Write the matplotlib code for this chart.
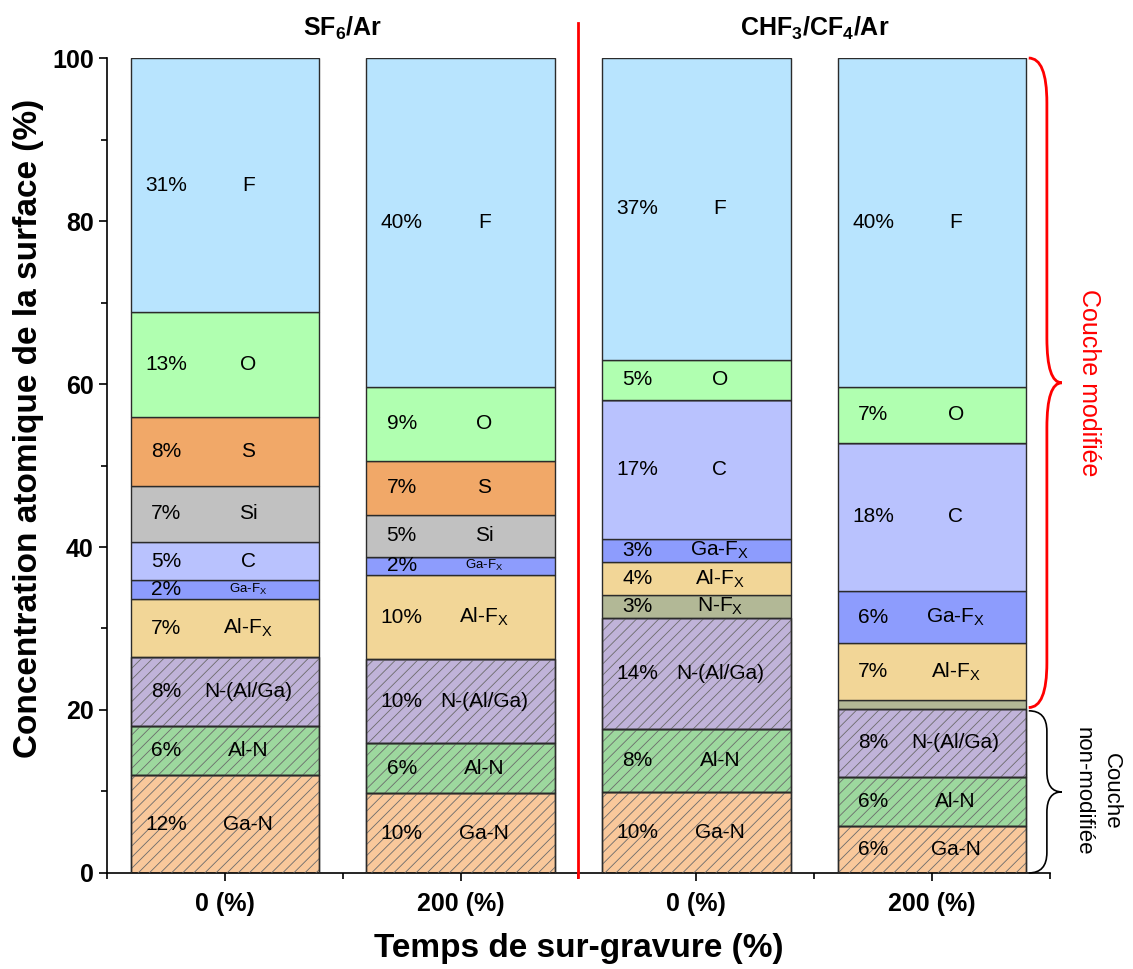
import numpy as np
import matplotlib
matplotlib.use('Agg')
import matplotlib.pyplot as plt
from matplotlib.path import Path
from matplotlib.patches import PathPatch

plt.rcParams['font.family'] = ['Liberation Sans', 'DejaVu Sans']
plt.rcParams['hatch.linewidth'] = 0.6
plt.rcParams['mathtext.default'] = 'regular'

#! Data
categories = ['0 (%)', '200 (%)', '0 (%)', '200 (%)']
groups = ['SF$_6$/Ar', 'CHF$_3$/CF$_4$/Ar']

species = ['Ga-N', 'Al-N', 'N-(Al/Ga)', 'N-F$_X$', 'Al-F$_X$', 'Ga-F$_X$',
           'C', 'Si', 'S', 'O', 'F']
ga_n = [12.0, 9.8, 9.9, 5.8]
al_n = [6.0, 6.1, 7.8, 6.0]
n_alga = [8.5, 10.3, 13.6, 8.3]
n_fx = [0.0, 0.0, 2.8, 1.1]
al_fx = [7.1, 10.4, 4.0, 7.0]
ga_fx = [2.3, 2.2, 2.9, 6.4]
c = [4.7, 0.0, 17.0, 18.2]
si = [6.9, 5.1, 0.0, 0.0]
s = [8.5, 6.7, 0.0, 0.0]
o = [12.8, 9.0, 5.0, 6.8]
f = [31.2, 40.4, 37.0, 40.4]

pct_ga_n = ['12%', '10%', '10%', '6%']
pct_al_n = ['6%', '6%', '8%', '6%']
pct_n_alga = ['8%', '10%', '14%', '8%']
pct_n_fx = ['', '', '3%', '']
pct_al_fx = ['7%', '10%', '4%', '7%']
pct_ga_fx = ['2%', '2%', '3%', '6%']
pct_c = ['5%', '', '17%', '18%']
pct_si = ['7%', '5%', '', '']
pct_s = ['8%', '7%', '', '']
pct_o = ['13%', '9%', '5%', '7%']
pct_f = ['31%', '40%', '37%', '40%']

values = [ga_n, al_n, n_alga, n_fx, al_fx, ga_fx, c, si, s, o, f]
pcts = [pct_ga_n, pct_al_n, pct_n_alga, pct_n_fx, pct_al_fx, pct_ga_fx,
        pct_c, pct_si, pct_s, pct_o, pct_f]
colors = ['#f9c89b', '#9dd89e', '#c0b3d9', '#b2b896', '#f2d697', '#8d9cfd',
          '#b9c2fe', '#c1c1c1', '#f1a868', '#b0ffb0', '#b8e4fe']
hatched = [True, True, True, False, False, False, False, False, False, False, False]

#! Figure
fig = plt.figure(figsize=(11.33, 9.69), dpi=100)
ax = fig.add_axes([0.0944, 0.0991, 0.8323, 0.8410])

x = np.arange(len(categories))
width = 0.8
bottom = np.zeros(len(categories))
for k, vals in enumerate(values):
    vals = np.array(vals)
    ax.bar(x, vals, width, bottom=bottom, color=colors[k],
           edgecolor='#2b2b2b', linewidth=1.0, zorder=2)
    if hatched[k]:
        ax.bar(x, vals, width, bottom=bottom, color='none',
               edgecolor='#6b6b6b', hatch='///', linewidth=0, zorder=3)
        ax.bar(x, vals, width, bottom=bottom, color='none',
               edgecolor='#2b2b2b', linewidth=1.0, zorder=4)
    for i in range(len(categories)):
        if vals[i] <= 0:
            continue
        ymid = bottom[i] + vals[i] / 2
        if pcts[k][i]:
            ax.text(x[i] - 0.25, ymid, pcts[k][i], ha='center', va='center',
                    fontsize=15, zorder=5)
            small = vals[i] < 2.5
            ax.text(x[i] + 0.1, ymid, species[k], ha='center', va='center',
                    fontsize=9.5 if small else 15, zorder=5)
    bottom += vals

ax.set_xlim(-0.5, 3.5)
ax.set_ylim(0, 100)
ax.set_xticks(x)
ax.set_xticklabels(categories, fontsize=18, fontweight='bold')
ax.set_xticks(np.arange(-0.5, 4, 1), minor=True)
ax.set_yticks(np.arange(0, 101, 20))
ax.set_yticks(np.arange(10, 100, 20), minor=True)
ax.tick_params(axis='y', labelsize=18, width=1.2, length=6)
ax.tick_params(axis='x', width=1.2, length=6, pad=8)
ax.tick_params(which='minor', width=1.2, length=4)
for lab in ax.get_yticklabels():
    lab.set_fontweight('bold')
ax.spines['top'].set_visible(False)
ax.spines['right'].set_visible(False)
ax.spines['left'].set_linewidth(1.2)
ax.spines['bottom'].set_linewidth(1.2)

ax.set_ylabel('Concentration atomique de la surface (%)', fontsize=24,
              fontweight='bold', labelpad=6)
ax.yaxis.label.set_y(0.545)
ax.set_xlabel('Temps de sur-gravure (%)', fontsize=24, fontweight='bold',
              labelpad=12)

# group titles and separator
ax.text(0.5, 103.6, groups[0], ha='center', va='center', fontsize=18,
        fontweight='bold')
ax.text(2.5, 103.6, groups[1], ha='center', va='center', fontsize=18,
        fontweight='bold')
ax.plot([1.5, 1.5], [-0.5, 104.3], color='red', lw=2, clip_on=False, zorder=6)


def brace(x0, x1, ytop, ybot, r, color):
    xm = x0 + (x1 - x0) * 0.55
    ymid = (ytop + ybot) / 2
    verts = [(x0, ytop), (xm, ytop), (xm, ytop - r), (xm, ymid + r),
             (xm, ymid), (x1, ymid), (xm, ymid), (xm, ymid - r),
             (xm, ybot + r), (xm, ybot), (x0, ybot)]
    codes = [Path.MOVETO, Path.CURVE3, Path.CURVE3, Path.LINETO,
             Path.CURVE3, Path.CURVE3, Path.CURVE3, Path.CURVE3,
             Path.LINETO, Path.CURVE3, Path.CURVE3]
    ax.add_patch(PathPatch(Path(verts, codes), facecolor='none',
                           edgecolor=color, lw=2 if color == 'red' else 1.2,
                           clip_on=False, zorder=6))


brace(3.41, 3.55, 100, 20.3, 5.5, 'red')
brace(3.41, 3.55, 19.9, 0, 2.5, 'black')

ax.text(3.665, 60.2, 'Couche modifiée', color='red', rotation=-90,
        ha='center', va='center', fontsize=18)
ax.text(3.70, 10, 'Couche\nnon-modifiée', color='black', rotation=-90,
        ha='center', va='center', fontsize=16, linespacing=1.45)

fig.savefig('out.png', dpi=100)
